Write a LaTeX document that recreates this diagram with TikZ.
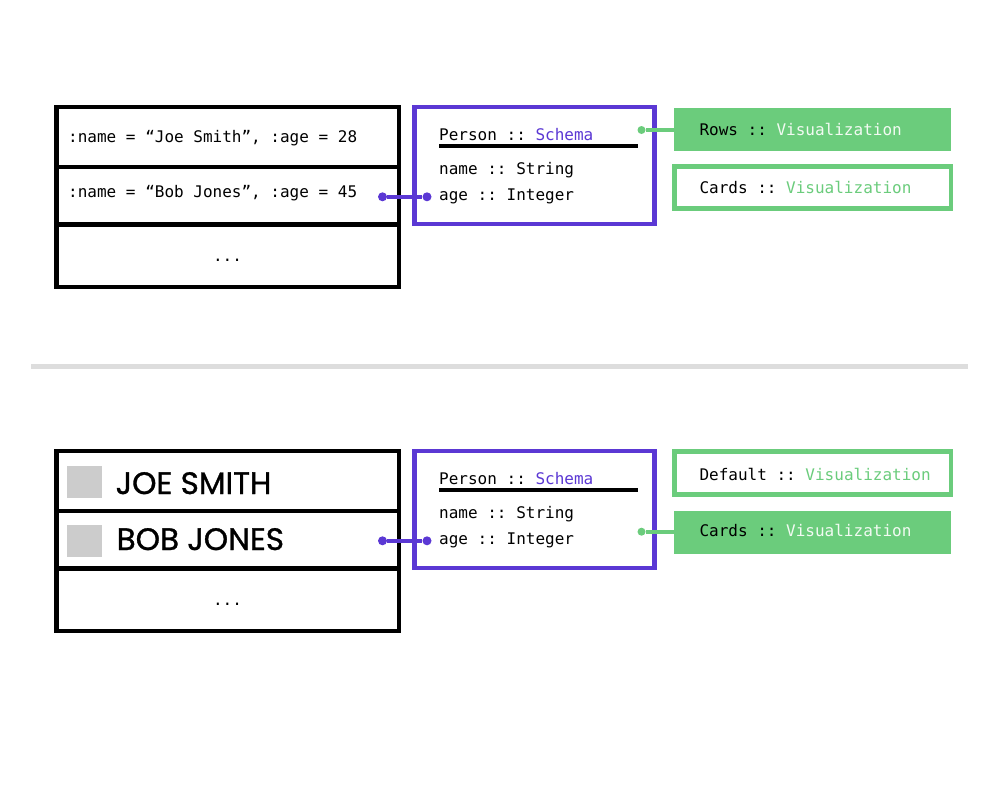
\documentclass[tikz,border=0pt]{standalone}
\usepackage{fontspec}
\setmonofont{DejaVu Sans Mono}
\newfontfamily\namefont[FakeBold=1]{Poppins}
\definecolor{purp}{HTML}{5B38D4}
\definecolor{grn}{HTML}{6BCC7C}
\definecolor{lite}{HTML}{F2FAF2}
\definecolor{sep}{HTML}{DDDDDD}
\definecolor{sq}{HTML}{CCCCCC}
\begin{document}
\begin{tikzpicture}[x=1pt,y=-1pt,
  rowbox/.style={draw=black, line width=4.5pt, inner sep=0pt, minimum width=342.5pt},
  schemabox/.style={draw=purp, line width=4.5pt, inner sep=0pt, minimum width=240pt, minimum height=117pt},
  vizfill/.style={fill=grn, inner sep=0pt, minimum width=276.7pt, minimum height=42.5pt},
  vizline/.style={draw=grn, line width=4.7pt, inner sep=0pt, minimum width=276.4pt, minimum height=42.4pt},
  mono/.style={inner sep=0pt, anchor=base west, font=\ttfamily\fontsize{16}{19}\selectfont},
  bigname/.style={inner sep=0pt, anchor=base west, font=\namefont\fontsize{31}{36}\selectfont},
  pdot/.style={circle, fill=purp, inner sep=0pt, minimum size=9pt},
  gdot/.style={circle, fill=grn, inner sep=0pt, minimum size=8pt},
  plink/.style={purp, line width=4pt},
  glink/.style={grn, line width=4pt},
  square/.style={fill=sq, inner sep=0pt, minimum width=35.6pt, minimum height=31.7pt}
]
\useasboundingbox (0,0) rectangle (1000,800);
\fill[white] (0,0) rectangle (1000,800);

% ---------- top half ----------
\node[rowbox, minimum height=60pt] (t1) at (227.75,137) {};
\node[rowbox, minimum height=57.5pt] (t2) at (227.75,195.75) {};
\node[rowbox, minimum height=62.5pt] (t3) at (227.75,255.75) {};
\node[mono] (t1txt) at (68,142.3) {:name = “Joe Smith”, :age = 28};
\node[mono] (t2txt) at (68,197.3) {:name = “Bob Jones”, :age = 45};
\node[mono, anchor=base] (t3txt) at (227.5,261) {...};

\node[schemabox] (ts) at (534.3,165.5) {};
\node[mono] (tsh) at (439,140) {Person :: \textcolor{purp}{Schema}};
\draw[line width=3.6pt] (439,146) -- (638.3,146);
\node[mono] (tsn) at (439,174) {name :: String};
\node[mono] (tsa) at (439,200.7) {age :: Integer};

\node[pdot] (tdl) at (382.5,196.8) {};
\node[pdot] (tdr) at (427,196.8) {};
\draw[plink] (tdl) -- (tdr);

\node[vizfill] (trows) at (812.35,129.5) {};
\node[mono] (trowst) at (699.3,135.7) {Rows :: \textcolor{lite}{Visualization}};
\node[vizline] (tcards) at (812.75,187.6) {};
\node[mono] (tcardst) at (699.3,193.3) {Cards :: \textcolor{grn}{Visualization}};
\node[gdot] (tg) at (641.5,130) {};
\draw[glink] (tg) -- (trows.west |- tg);

% ---------- separator ----------
\coordinate (sepl) at (31,366.5);
\coordinate (sepr) at (968,366.5);
\draw[sep, line width=5pt] (sepl) -- (sepr);

% ---------- bottom half ----------
\node[rowbox, minimum height=60pt] (b1) at (227.75,481) {};
\node[rowbox, minimum height=57.5pt] (b2) at (227.75,539.75) {};
\node[rowbox, minimum height=62.5pt] (b3) at (227.75,599.75) {};
\node[square] (bsq1) at (84.5,481.8) {};
\node[square] (bsq2) at (84.5,540.8) {};
\node[bigname] (b1txt) at (115.5,494) {JOE SMITH};
\node[bigname] (b2txt) at (116.5,550) {BOB JONES};
\node[mono, anchor=base] (b3txt) at (227.5,605.5) {...};

\node[schemabox] (bs) at (534.3,509.5) {};
\node[mono] (bsh) at (439,484) {Person :: \textcolor{purp}{Schema}};
\draw[line width=3.6pt] (439,490) -- (638.3,490);
\node[mono] (bsn) at (439,518) {name :: String};
\node[mono] (bsa) at (439,544.7) {age :: Integer};

\node[pdot] (bdl) at (382.5,540.8) {};
\node[pdot] (bdr) at (427,540.8) {};
\draw[plink] (bdl) -- (bdr);

\node[vizline] (bdef) at (812.85,473) {};
\node[mono] (bdeft) at (699.3,480) {Default :: \textcolor{grn}{Visualization}};
\node[vizfill] (bcards) at (812.35,532.35) {};
\node[mono] (bcardst) at (699.3,536.7) {Cards :: \textcolor{lite}{Visualization}};
\node[gdot] (bg) at (641.5,531.7) {};
\draw[glink] (bg) -- (bcards.west |- bg);
\end{tikzpicture}
\end{document}
